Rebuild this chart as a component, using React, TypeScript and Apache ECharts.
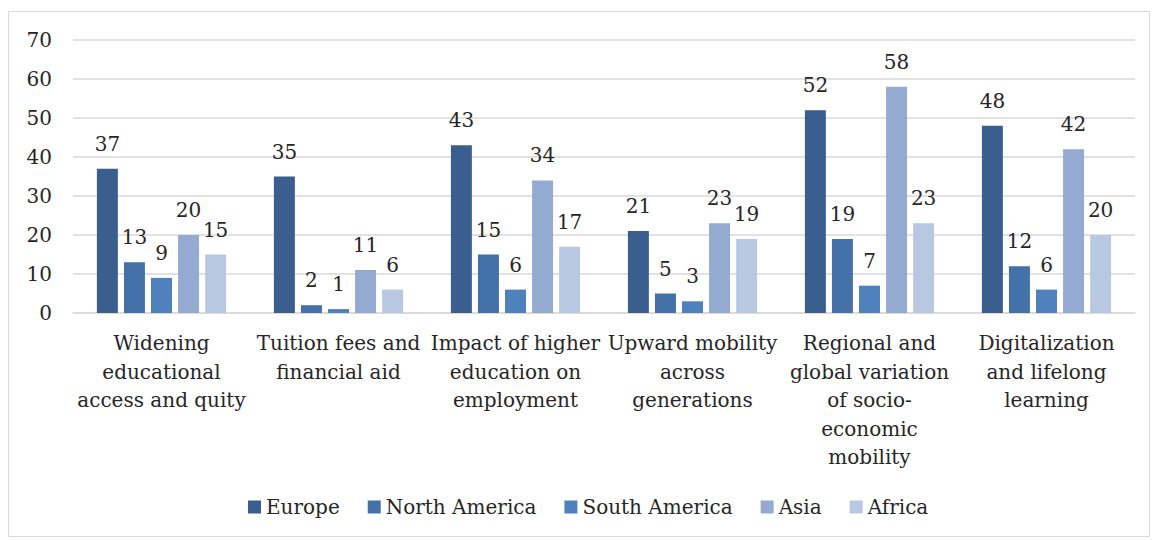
import React, { useEffect, useRef } from "react";
import * as echarts from "echarts";

const categories = [
  "Widening\neducational\naccess and quity",
  "Tuition fees and\nfinancial aid",
  "Impact of higher\neducation on\nemployment",
  "Upward mobility\nacross\ngenerations",
  "Regional and\nglobal variation\nof socio-\neconomic\nmobility",
  "Digitalization\nand lifelong\nlearning",
];
const seriesNames = ["Europe", "North America", "South America", "Asia", "Africa"];
const europe = [37, 35, 43, 21, 52, 48];
const northAmerica = [13, 2, 15, 5, 19, 12];
const southAmerica = [9, 1, 6, 3, 7, 6];
const asia = [20, 11, 34, 23, 58, 42];
const africa = [15, 6, 17, 19, 23, 20];
const colors = ["#3A5F8E", "#4472A8", "#4F81BD", "#95AAD1", "#B9C8E1"];

const FONT = "'DejaVu Serif', serif";

export default function App() {
  const ref = useRef<HTMLDivElement>(null);
  useEffect(() => {
    document.body.style.margin = "0";
    const chart = echarts.init(ref.current!, null, { renderer: "svg" });
    const values = [europe, northAmerica, southAmerica, asia, africa];
    chart.setOption({
      animation: false,
      textStyle: { fontFamily: FONT },
      graphic: [
        {
          type: "rect",
          shape: { x: 8.5, y: 11.5, width: 1141, height: 525 },
          style: { fill: "none", stroke: "#d9d9d9", lineWidth: 1 },
          silent: true,
        },
      ],
      grid: { left: 73, right: 18, top: 40, bottom: 227, containLabel: false },
      legend: {
        data: seriesNames,
        bottom: 18,
        left: 243,
        itemWidth: 13,
        itemHeight: 13,
        itemGap: 28,
        icon: "rect",
        textStyle: { fontFamily: FONT, fontSize: 20, color: "#262626" },
      },
      xAxis: {
        type: "category",
        data: categories,
        axisTick: { show: false },
        axisLine: { lineStyle: { color: "#d9d9d9", width: 1.5 } },
        axisLabel: {
          interval: 0,
          fontFamily: FONT,
          fontSize: 20,
          color: "#262626",
          lineHeight: 28.5,
          margin: 16,
          verticalAlign: "top",
        },
      },
      yAxis: {
        type: "value",
        min: 0,
        max: 70,
        interval: 10,
        axisLine: { show: false },
        axisTick: { show: false },
        splitLine: { lineStyle: { color: "#d9d9d9", width: 1.5 } },
        axisLabel: { fontFamily: FONT, fontSize: 20, color: "#262626", margin: 21 },
      },
      series: seriesNames.map((name, i) => ({
        name,
        type: "bar",
        data: values[i],
        barGap: "29%",
        barCategoryGap: "27%",
        itemStyle: { color: colors[i] },
        label: {
          show: true,
          position: "top",
          distance: 15,
          fontFamily: FONT,
          fontSize: 20,
          color: "#262626",
        },
      })),
    });
    return () => chart.dispose();
  }, []);
  return <div ref={ref} style={{ width: 1153, height: 540 }} />;
}
